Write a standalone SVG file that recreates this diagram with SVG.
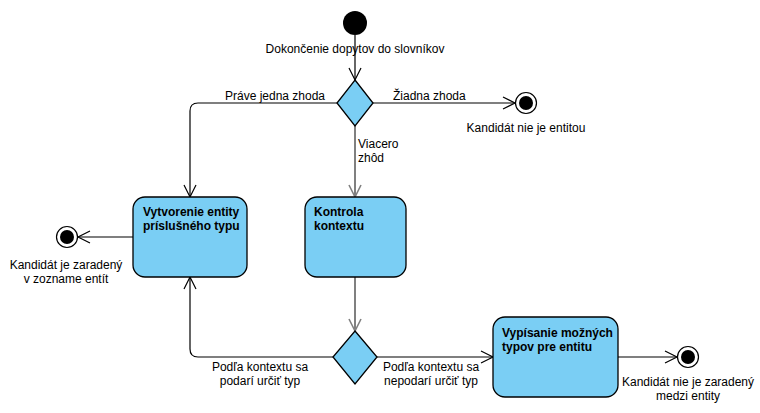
<svg xmlns="http://www.w3.org/2000/svg" width="760" height="413" viewBox="0 0 760 413">
<style>
text{font-family:"Liberation Sans",Arial,sans-serif;font-size:12px;fill:#000}
.b{font-weight:bold}
.m{text-anchor:middle}
.act{fill:#7ACEF4;stroke:#000;stroke-width:1.3}
.dec{fill:#7ACEF4;stroke:#000;stroke-width:1.3}
.e{fill:none;stroke:#000;stroke-width:1.2}
.g{fill:none;stroke:#808080;stroke-width:2}
</style>
<defs>
<marker id="a" markerUnits="userSpaceOnUse" markerWidth="14" markerHeight="14" refX="12" refY="6" orient="auto" overflow="visible">
<path d="M0,0 L12,6 L0,12" fill="none" stroke="#000" stroke-width="1.2"/>
</marker>
<marker id="ag" markerUnits="userSpaceOnUse" markerWidth="14" markerHeight="14" refX="12" refY="6" orient="auto" overflow="visible">
<path d="M0,0 L12,6 L0,12" fill="none" stroke="#808080" stroke-width="1.6"/>
</marker>
</defs>
<g id="connectors">
<path class="e" d="M355,35 L355,80" marker-end="url(#a)"/>
<path class="e" d="M337,103 L198,103 Q190,103 190,111 L190,197" marker-end="url(#a)"/>
<path class="e" d="M373,103 L515,103" marker-end="url(#a)"/>
<path class="g" d="M355,126 L355,197" marker-end="url(#ag)"/>
<path class="e" d="M133,237 L78,237" marker-end="url(#a)"/>
<path class="g" d="M355,277 L355,331" marker-end="url(#ag)"/>
<path class="e" d="M333,357 L198,357 Q190,357 190,349 L190,277" marker-end="url(#a)"/>
<path class="e" d="M377,357 L493,357" marker-end="url(#a)"/>
<path class="e" d="M618,357 L677,357" marker-end="url(#a)"/>
<text x="355" y="53" class="m">Dokončenie dopytov do slovníkov</text>
<text x="275" y="100" class="m">Práve jedna zhoda</text>
<text x="393" y="100">Žiadna zhoda</text>
<text x="358" y="148">Viacero</text>
<text x="358" y="162">zhôd</text>
<text x="260" y="371" class="m">Podľa kontextu sa</text>
<text x="260" y="385" class="m">podarí určiť typ</text>
<text x="431" y="371" class="m">Podľa kontextu sa</text>
<text x="431" y="385" class="m">nepodarí určiť typ</text>
</g>
<g id="start">
<circle cx="355" cy="23" r="12" fill="#000"/>
</g>
<g id="decision1">
<path class="dec" d="M355,80 L373,103 L355,126 L337,103 Z"/>
</g>
<g id="end-none">
<circle cx="526" cy="103" r="10.5" fill="#fff" stroke="#000" stroke-width="1.2"/>
<circle cx="526" cy="103" r="7" fill="#000"/>
<text x="526" y="132" class="m">Kandidát nie je entitou</text>
</g>
<g id="create-entity">
<rect class="act" x="133" y="197" width="114" height="80" rx="12"/>
<text x="143" y="216" class="b">Vytvorenie entity</text>
<text x="143" y="230" class="b">príslušného typu</text>
</g>
<g id="check-context">
<rect class="act" x="305" y="197" width="101" height="80" rx="12"/>
<text x="314" y="216" class="b">Kontrola</text>
<text x="314" y="230" class="b">kontextu</text>
</g>
<g id="end-listed">
<circle cx="67" cy="237" r="10.5" fill="#fff" stroke="#000" stroke-width="1.2"/>
<circle cx="67" cy="237" r="7" fill="#000"/>
<text x="66" y="269" class="m">Kandidát je zaradený</text>
<text x="66" y="283" class="m">v zozname entít</text>
</g>
<g id="decision2">
<path class="dec" d="M355,331 L377,357 L355,384 L333,357 Z"/>
</g>
<g id="list-types">
<rect class="act" x="493" y="317" width="125" height="80" rx="12"/>
<text x="502" y="337" class="b">Vypísanie možných</text>
<text x="502" y="351" class="b">typov pre entitu</text>
</g>
<g id="end-unassigned">
<circle cx="688" cy="357" r="10.5" fill="#fff" stroke="#000" stroke-width="1.2"/>
<circle cx="688" cy="357" r="7" fill="#000"/>
<text x="688" y="386" class="m">Kandidát nie je zaradený</text>
<text x="688" y="400" class="m">medzi entity</text>
</g>
</svg>
